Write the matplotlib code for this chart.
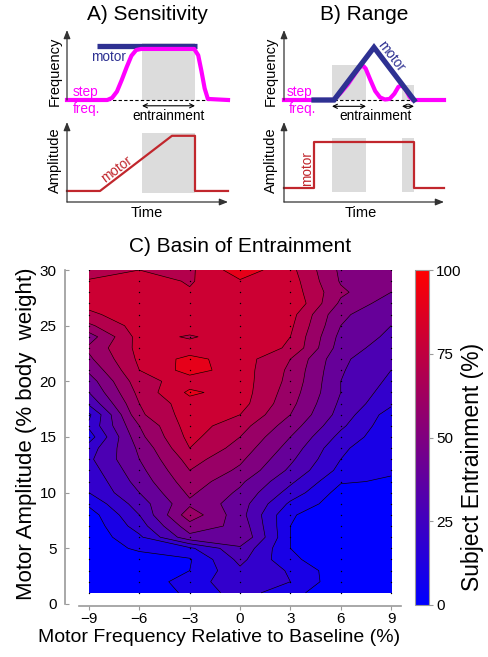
import numpy as np
import matplotlib
matplotlib.use('Agg')
import matplotlib.pyplot as plt
from matplotlib.colors import LinearSegmentedColormap, Normalize
from matplotlib.patches import Rectangle
import matplotlib.cm as cm

plt.rcParams['font.family'] = ['Liberation Sans', 'DejaVu Sans']

# ---- panel C data: % of subjects entrained ----
freq_offsets = [-9, -6, -3, 0, 3, 6, 9]
amplitudes = list(range(30, 0, -1))
# one row per amplitude (30 -> 1), columns follow freq_offsets
entrainment = [
    [75, 80, 78, 96, 83, 58, 52],
    [81, 85, 79, 89, 85, 59, 52],
    [85, 86, 81, 85, 86, 62, 50],
    [83, 86, 84, 85, 90, 58, 45],
    [78, 86, 82, 85, 84, 52, 42],
    [68, 85, 85, 85, 82, 50, 40],
    [55, 84, 79, 85, 80, 47, 38],
    [62, 83, 84, 85, 79, 45, 35],
    [58, 82, 93, 85, 70, 42, 32],
    [52, 80, 94, 85, 68, 41, 30],
    [45, 76, 85, 85, 67, 40, 28],
    [40, 73, 92, 85, 65, 40, 25],
    [32, 70, 86, 84, 63, 38, 22],
    [18, 68, 85, 80, 60, 36, 15],
    [22, 60, 85, 74, 55, 32, 13],
    [15, 57, 83, 70, 50, 27, 12],
    [25, 52, 80, 66, 46, 22, 11],
    [28, 50, 74, 62, 42, 20, 12],
    [25, 47, 70, 58, 38, 17, 11],
    [22, 44, 66, 52, 32, 11, 9],
    [20, 40, 62, 48, 26, 6, 4],
    [12, 35, 58, 45, 18, 4, 3],
    [5, 30, 66, 44, 11, 3, 3],
    [3, 25, 56, 47, 10, 3, 3],
    [3, 18, 47, 50, 10, 3, 3],
    [3, 12, 18, 38, 10, 3, 3],
    [3, 5, 9, 33, 12, 3, 3],
    [3, 3, 10, 28, 19, 3, 3],
    [3, 3, 15, 27, 20, 3, 3],
    [3, 3, 12, 25, 13, 3, 3],
]
levels = [0, 10, 20, 30, 40, 50, 60, 70, 80, 90, 100]
cbar_ticks = [0, 25, 50, 75, 100]
xticks = [-9, -6, -3, 0, 3, 6, 9]
yticks = [0, 5, 10, 15, 20, 25, 30]

# ---- schematic data (time 0..10) ----
A_motor_t = [1.86, 8.07]
A_motor_f = [1.03, 1.03]
A_step_t = [0, 2.5, 2.8, 3.1, 3.4, 3.7, 4.0, 4.3, 4.6, 7.9, 8.15, 8.35, 8.55, 8.75, 10]
A_step_f = [0, 0, 0.04, 0.16, 0.38, 0.62, 0.84, 0.95, 0.97, 0.97, 0.85, 0.55, 0.22, 0.02, 0]
A_win = (4.66, 7.95)
A_amp_t = [0, 2.05, 6.52, 7.95, 7.95, 10]
A_amp_a = [0, 0, 1, 1, 0, 0]

B_motor_t = [1.875, 3.125, 5.625, 8.125]
B_motor_f = [0, 0, 1, 0]
B_step_t = [0, 3.1, 3.5, 4.0, 4.4, 4.7, 4.9, 5.1, 5.4, 5.7, 6.0, 6.3, 6.6, 6.9, 7.15, 7.35, 7.6, 7.85, 8.05, 10]
B_step_f = [0, 0, 0.12, 0.30, 0.48, 0.61, 0.66, 0.60, 0.38, 0.17, 0.05, 0.01, 0.02, 0.12, 0.25, 0.28, 0.2, 0.06, 0.0, 0]
B_wins = [(3.0, 5.125, 0.67), (7.375, 8.125, 0.29)]
B_amp_t = [0, 1.875, 1.875, 8.125, 8.125, 10]
B_amp_a = [0.05, 0.05, 0.89, 0.89, 0.05, 0.05]

W, H = 488, 657
fig = plt.figure(figsize=(W / 100, H / 100), dpi=100)


def box(l, t, r, b):
    return [l / W, 1 - b / H, (r - l) / W, (b - t) / H]


MAG = '#ff00ff'
NAVY = '#2e3192'
RED = '#c1272d'
GREY = '#dcdcdc'
AX = '#333333'


def axis_arrows(ax, xarrow):
    kw = dict(arrowstyle='-|>,head_length=0.5,head_width=0.2', lw=0.9, color=AX,
              shrinkA=0, shrinkB=0)
    ax.annotate('', xy=(0, 1), xytext=(0, 0), xycoords='axes fraction', arrowprops=kw)
    if xarrow:
        ax.annotate('', xy=(1, 0), xytext=(0, 0), xycoords='axes fraction', arrowprops=kw)


def dbl_arrow(ax, x1, x2, y):
    ax.annotate('', xy=(x2, y), xytext=(x1, y),
                arrowprops=dict(arrowstyle='<->,head_length=0.3,head_width=0.15', lw=0.8,
                                color='k', shrinkA=0, shrinkB=0),
                annotation_clip=False)


# ---- panel A ----
axAf = fig.add_axes(box(67, 30, 228, 100))
axAf.set_xlim(0, 10)
axAf.set_ylim(0, 1.33)
axAf.axis('off')
axAf.add_patch(Rectangle((A_win[0], 0), A_win[1] - A_win[0], 1.08, color=GREY, lw=0))
axAf.plot([2.5, 8.8], [0, 0], color='k', lw=0.8, ls=(0, (3, 2)), clip_on=False)
axAf.plot(A_motor_t, A_motor_f, color=NAVY, lw=3.8, solid_capstyle='butt', clip_on=False)
axAf.plot(A_step_t, A_step_f, color=MAG, lw=3.0, clip_on=False, solid_joinstyle='round')
dbl_arrow(axAf, A_win[0], A_win[1], -0.11)
axAf.text(6.3, -0.3, 'entrainment', fontsize=9.8, ha='center', va='center')
axAf.text(2.55, 0.81, 'motor', fontsize=9.8, color=NAVY, ha='center', va='center')
axAf.text(0.37, 0.16, 'step', fontsize=9.8, color=MAG, ha='left', va='center')
axAf.text(0.37, -0.18, 'freq.', fontsize=9.8, color=MAG, ha='left', va='center')
axAf.text(-0.75, 0.55, 'Frequency', fontsize=10.5, rotation=90, ha='center', va='center')
axis_arrows(axAf, False)

axAa = fig.add_axes(box(67, 122, 228, 202))
axAa.set_xlim(0, 10)
axAa.set_ylim(-0.2, 1.25)
axAa.axis('off')
axAa.add_patch(Rectangle((A_win[0], -0.03), A_win[1] - A_win[0], 1.08, color=GREY, lw=0))
axAa.plot(A_amp_t, A_amp_a, color=RED, lw=1.6, clip_on=False)
axAa.text(3.1, 0.4, 'motor', fontsize=9.8, color=RED, rotation=37, ha='center', va='center')
axAa.text(4.97, -0.4, 'Time', fontsize=10.5, ha='center', va='center')
axAa.text(-0.75, 0.55, 'Amplitude', fontsize=10.5, rotation=90, ha='center', va='center')
axis_arrows(axAa, True)

# ---- panel B ----
axBf = fig.add_axes(box(284, 30, 444, 100))
axBf.set_xlim(0, 10)
axBf.set_ylim(0, 1.33)
axBf.axis('off')
for t0, t1, top in B_wins:
    axBf.add_patch(Rectangle((t0, 0), t1 - t0, top, color=GREY, lw=0))
axBf.plot([3.1, 8.1], [0, 0], color='k', lw=0.8, ls=(0, (3, 2)), clip_on=False)
axBf.plot(B_step_t, B_step_f, color=MAG, lw=3.0, clip_on=False, solid_joinstyle='round')
axBf.plot(B_motor_t, B_motor_f, color=NAVY, lw=3.8, clip_on=False, solid_joinstyle='miter')
for t0, t1, top in B_wins:
    dbl_arrow(axBf, t0, t1, -0.12)
axBf.text(5.75, -0.3, 'entrainment', fontsize=9.8, ha='center', va='center')
axBf.text(6.7, 0.83, 'motor', fontsize=9.8, color=NAVY, rotation=-52, ha='center', va='center')
axBf.text(0.19, 0.16, 'step', fontsize=9.8, color=MAG, ha='left', va='center')
axBf.text(0.31, -0.18, 'freq.', fontsize=9.8, color=MAG, ha='left', va='center')
axBf.text(-0.8, 0.55, 'Frequency', fontsize=10.5, rotation=90, ha='center', va='center')
axis_arrows(axBf, False)

axBa = fig.add_axes(box(284, 122, 444, 202))
axBa.set_xlim(0, 10)
axBa.set_ylim(-0.2, 1.25)
axBa.axis('off')
for t0, t1, top in B_wins:
    axBa.add_patch(Rectangle((t0, -0.02), t1 - t0, 0.98, color=GREY, lw=0))
axBa.plot(B_amp_t, B_amp_a, color=RED, lw=1.6, clip_on=False)
axBa.text(1.44, 0.4, 'motor', fontsize=9.8, color=RED, rotation=90, ha='center', va='center')
axBa.text(4.8, -0.4, 'Time', fontsize=10.5, ha='center', va='center')
axBa.text(-0.8, 0.55, 'Amplitude', fontsize=10.5, rotation=90, ha='center', va='center')
axis_arrows(axBa, True)

fig.text(147 / W, 1 - 15 / H, 'A) Sensitivity', fontsize=15, ha='center', va='center')
fig.text(364 / W, 1 - 15 / H, 'B) Range', fontsize=15, ha='center', va='center')

# ---- panel C ----
cmap = LinearSegmentedColormap.from_list('br', [(0, 0, 1), (1, 0, 0)])
band_colors = [cmap(l / 100) for l in levels[:-1]]
X, Y = np.meshgrid(freq_offsets, amplitudes)
Z = np.array(entrainment, dtype=float)

ax = fig.add_axes(box(65, 270, 401, 606))
ax.contourf(X, Y, Z, levels=levels, colors=band_colors)
ax.contour(X, Y, Z, levels=levels[1:-1], colors='k', linewidths=0.45)
ax.plot(X.ravel(), Y.ravel(), 'k.', ms=2.0, mew=0)
ax.set_xlim(-10.43, 9.59)
ax.set_ylim(-0.18, 30)
for s in ['top', 'right']:
    ax.spines[s].set_visible(False)
ax.spines['left'].set_bounds(0, 30)
ax.spines['bottom'].set_bounds(-9.6, 9.59)
for s in ['left', 'bottom']:
    ax.spines[s].set_color('#9a9a9a')
    ax.spines[s].set_linewidth(1.2)
ax.set_xticks(xticks)
ax.set_yticks(yticks)
ax.tick_params(axis='y', direction='in', length=3, color='#9a9a9a', labelsize=11, pad=6)
ax.tick_params(axis='x', direction='out', length=3, color='#9a9a9a', labelsize=11, pad=1.5)

fig.text(240 / W, 1 - 247 / H, 'C) Basin of Entrainment', fontsize=15, ha='center', va='center')
fig.text(219 / W, 1 - 637 / H, 'Motor Frequency Relative to Baseline (%)', fontsize=14,
         ha='center', va='center')
fig.text(27 / W, 1 - 434 / H, 'Motor Amplitude (% body  weight)', fontsize=16,
         rotation=90, ha='center', va='center')

cax = fig.add_axes(box(415, 270, 429, 605))
sm = cm.ScalarMappable(norm=Normalize(0, 100), cmap=cmap)
cb = fig.colorbar(sm, cax=cax, ticks=cbar_ticks)
cb.outline.set_edgecolor('#9a9a9a')
cax.tick_params(length=3, color='#9a9a9a', labelsize=11, pad=2)
fig.text(472 / W, 1 - 467 / H, 'Subject Entrainment (%)', fontsize=16.5, rotation=90,
         ha='center', va='center')

fig.savefig('out.png', dpi=100)
